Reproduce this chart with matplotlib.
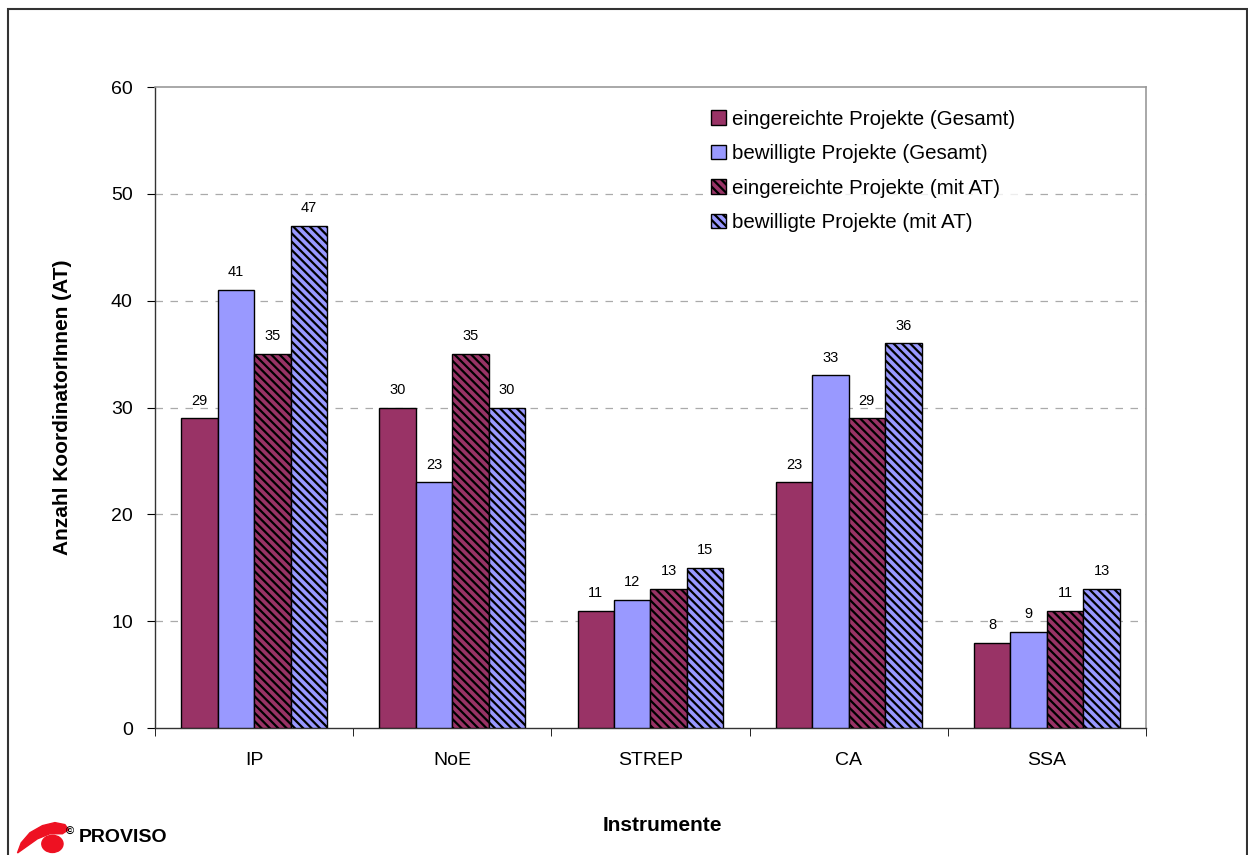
import numpy as np
import matplotlib
matplotlib.use('Agg')
from matplotlib import pyplot as plt
from matplotlib.patches import Rectangle, Circle, Polygon

plt.rcParams['font.family'] = ['Liberation Sans', 'DejaVu Sans']
plt.rcParams['hatch.linewidth'] = 1.6

# Daten
instrumente = ['IP', 'NoE', 'STREP', 'CA', 'SSA']
eingereicht_gesamt = [29, 30, 11, 23, 8]
bewilligt_gesamt = [41, 23, 12, 33, 9]
eingereicht_at = [35, 35, 13, 29, 11]
bewilligt_at = [47, 30, 15, 36, 13]
serien_namen = ['eingereichte Projekte (Gesamt)', 'bewilligte Projekte (Gesamt)',
                'eingereichte Projekte (mit AT)', 'bewilligte Projekte (mit AT)']
y_ticks = [0, 10, 20, 30, 40, 50, 60]

lila = '#993366'
blau = '#9999ff'

fig = plt.figure(figsize=(12.48, 8.55), dpi=100)
ax = fig.add_axes([0.1242, 0.1485, 0.7940, 0.7497])

serien = [eingereicht_gesamt, bewilligt_gesamt, eingereicht_at, bewilligt_at]
farben = [lila, blau, lila, blau]
hatches = [None, None, '\\\\\\\\', '\\\\\\\\']
x = np.arange(len(instrumente))
w = 0.184
for i, (werte, farbe, h, name) in enumerate(zip(serien, farben, hatches, serien_namen)):
    pos = x + (i - 1.5) * w
    bars = ax.bar(pos, werte, width=w, color=farbe, edgecolor='black', linewidth=1.0,
                  hatch=h, label=name, zorder=3)
    for b, v in zip(bars, werte):
        ax.text(b.get_x() + b.get_width() / 2, v + 1.0, str(v), ha='center', va='bottom',
                fontsize=10.5, color='black', zorder=4)

ax.set_xlim(-0.5, 4.5)
ax.set_ylim(0, 60)
ax.set_yticks(y_ticks)
ax.set_xticks(x)
ax.set_xticklabels(instrumente, fontsize=14)
ax.tick_params(axis='x', length=0, pad=17)
ax.set_xticks(np.arange(-0.5, 5, 1), minor=True)
ax.tick_params(axis='x', which='minor', length=6, direction='out', color='black')
ax.tick_params(axis='y', labelsize=14, length=6, direction='out', pad=10)

for yv in y_ticks[1:-1]:
    ax.axhline(yv, color='#aaaaaa', linestyle=(0, (6, 6)), linewidth=0.9, zorder=1)

for s in ['top', 'right']:
    ax.spines[s].set_color('#999999')
    ax.spines[s].set_linewidth(1.2)
for s in ['left', 'bottom']:
    ax.spines[s].set_color('#333333')
    ax.spines[s].set_linewidth(1.0)

ax.set_ylabel('Anzahl KoordinatorInnen (AT)', fontsize=15, fontweight='bold', labelpad=28)
fig.text(0.531, 0.034, 'Instrumente', ha='center', va='center', fontsize=15, fontweight='bold')

leg = ax.legend(loc='upper left', bbox_to_anchor=(0.545, 0.99), frameon=True, edgecolor='none',
                fancybox=False, fontsize=14.8, handlelength=0.72, handleheight=0.72,
                handletextpad=0.3, labelspacing=0.75, borderpad=0.3)
leg.get_frame().set_facecolor('white')
leg.set_zorder(5)

# Rahmen um die Grafik
fig.patches.append(Rectangle((8 / 1248, -0.02), 1239 / 1248, 1.02 - 9 / 855,
                             transform=fig.transFigure, fill=False,
                             edgecolor='#333333', linewidth=1.5))

# Logo unten links
logo = fig.add_axes([0.012, 0.0, 0.045, 0.045])
logo.set_xlim(0, 45)
logo.set_ylim(0, 38)
logo.axis('off')
logo.add_patch(Circle((30, 11), 8.5, color='#ee1122'))
logo.add_patch(Polygon([(2, 2), (5, 12), (12, 22), (22, 29), (32, 32), (40, 30), (43, 25),
                        (38, 21), (28, 21), (18, 16), (10, 9)], closed=True, color='#ee1122'))
fig.text(0.053, 0.027, '©', fontsize=8, fontweight='bold', va='center')
fig.text(0.063, 0.020, 'PROVISO', fontsize=14, fontweight='bold', va='center')

plt.savefig('out.png', dpi=100)
